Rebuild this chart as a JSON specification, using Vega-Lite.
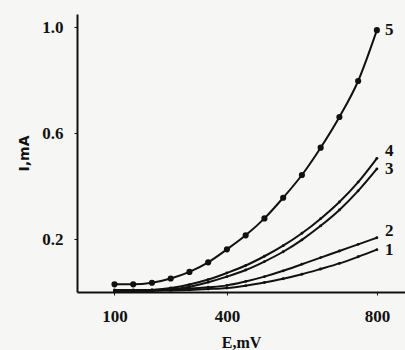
{
  "$schema": "https://vega.github.io/schema/vega-lite/v6.json",
  "autosize": {"type": "none"},
  "padding": {"left": 77, "top": 14, "right": 0, "bottom": 58},
  "width": 328,
  "height": 278,
  "background": "#f6f6f4",
  "config": {
    "view": {"stroke": null},
    "axis": {
      "grid": false,
      "domainColor": "#111",
      "domainWidth": 2,
      "tickColor": "#111",
      "tickSize": 3,
      "labelFont": "Liberation Serif",
      "labelFontWeight": "bold",
      "labelFontSize": 17,
      "labelColor": "#111",
      "titleFont": "Liberation Serif",
      "titleFontWeight": "bold",
      "titleFontSize": 16,
      "titleColor": "#111"
    }
  },
  "data": {
    "values": [
      {"s": "5", "E": 100, "I": 0.029}, {"s": "5", "E": 150, "I": 0.029}, {"s": "5", "E": 200, "I": 0.035}, {"s": "5", "E": 250, "I": 0.051}, {"s": "5", "E": 300, "I": 0.076}, {"s": "5", "E": 350, "I": 0.112}, {"s": "5", "E": 400, "I": 0.161}, {"s": "5", "E": 450, "I": 0.214}, {"s": "5", "E": 500, "I": 0.278}, {"s": "5", "E": 550, "I": 0.356}, {"s": "5", "E": 600, "I": 0.442}, {"s": "5", "E": 650, "I": 0.545}, {"s": "5", "E": 700, "I": 0.661}, {"s": "5", "E": 750, "I": 0.797}, {"s": "5", "E": 800, "I": 0.989},
      {"s": "4", "E": 100, "I": 0.005}, {"s": "4", "E": 150, "I": 0.005}, {"s": "4", "E": 200, "I": 0.008}, {"s": "4", "E": 250, "I": 0.015}, {"s": "4", "E": 300, "I": 0.028}, {"s": "4", "E": 350, "I": 0.047}, {"s": "4", "E": 400, "I": 0.072}, {"s": "4", "E": 450, "I": 0.1}, {"s": "4", "E": 500, "I": 0.135}, {"s": "4", "E": 550, "I": 0.175}, {"s": "4", "E": 600, "I": 0.222}, {"s": "4", "E": 650, "I": 0.277}, {"s": "4", "E": 700, "I": 0.34}, {"s": "4", "E": 750, "I": 0.415}, {"s": "4", "E": 800, "I": 0.505},
      {"s": "3", "E": 100, "I": 0.003}, {"s": "3", "E": 150, "I": 0.003}, {"s": "3", "E": 200, "I": 0.005}, {"s": "3", "E": 250, "I": 0.01}, {"s": "3", "E": 300, "I": 0.02}, {"s": "3", "E": 350, "I": 0.037}, {"s": "3", "E": 400, "I": 0.058}, {"s": "3", "E": 450, "I": 0.083}, {"s": "3", "E": 500, "I": 0.115}, {"s": "3", "E": 550, "I": 0.152}, {"s": "3", "E": 600, "I": 0.197}, {"s": "3", "E": 650, "I": 0.25}, {"s": "3", "E": 700, "I": 0.31}, {"s": "3", "E": 750, "I": 0.382}, {"s": "3", "E": 800, "I": 0.465},
      {"s": "2", "E": 100, "I": 0.008}, {"s": "2", "E": 150, "I": 0.008}, {"s": "2", "E": 200, "I": 0.008}, {"s": "2", "E": 250, "I": 0.01}, {"s": "2", "E": 300, "I": 0.013}, {"s": "2", "E": 350, "I": 0.018}, {"s": "2", "E": 400, "I": 0.025}, {"s": "2", "E": 450, "I": 0.04}, {"s": "2", "E": 500, "I": 0.058}, {"s": "2", "E": 550, "I": 0.08}, {"s": "2", "E": 600, "I": 0.105}, {"s": "2", "E": 650, "I": 0.13}, {"s": "2", "E": 700, "I": 0.155}, {"s": "2", "E": 750, "I": 0.18}, {"s": "2", "E": 800, "I": 0.205},
      {"s": "1", "E": 100, "I": 0.004}, {"s": "1", "E": 150, "I": 0.004}, {"s": "1", "E": 200, "I": 0.005}, {"s": "1", "E": 250, "I": 0.006}, {"s": "1", "E": 300, "I": 0.008}, {"s": "1", "E": 350, "I": 0.011}, {"s": "1", "E": 400, "I": 0.015}, {"s": "1", "E": 450, "I": 0.024}, {"s": "1", "E": 500, "I": 0.036}, {"s": "1", "E": 550, "I": 0.05}, {"s": "1", "E": 600, "I": 0.067}, {"s": "1", "E": 650, "I": 0.087}, {"s": "1", "E": 700, "I": 0.108}, {"s": "1", "E": 750, "I": 0.133}, {"s": "1", "E": 800, "I": 0.16}
    ]
  },
  "encoding": {
    "x": {"field": "E", "type": "quantitative", "scale": {"domain": [0, 875], "nice": false},
      "axis": {"values": [100, 400, 800], "title": "E,mV", "labelPadding": 13, "titlePadding": 10}},
    "y": {"field": "I", "type": "quantitative", "scale": {"domain": [0, 1.05], "nice": false},
      "axis": {"values": [0.2, 0.6, 1.0], "format": ".1f", "title": "I,mA", "titleFont": "DejaVu Sans", "titleFontSize": 14, "labelPadding": 11, "titlePadding": 10}}
  },
  "layer": [
    {"mark": {"type": "line", "interpolate": "monotone", "color": "#111", "strokeWidth": 2}, "encoding": {"detail": {"field": "s"}}},
    {"transform": [{"filter": "datum.s == '5'"}], "mark": {"type": "circle", "color": "#111", "opacity": 1, "size": 38}},
    {"transform": [{"filter": "datum.s != '5'"}], "mark": {"type": "circle", "color": "#111", "opacity": 1, "size": 8}},
    {"transform": [{"filter": "datum.E == 800 && (datum.s == '4' || datum.s == '2')"}], "mark": {"type": "text", "align": "left", "dx": 8, "dy": -7, "font": "Liberation Serif", "fontWeight": "bold", "fontSize": 17, "color": "#111"}, "encoding": {"text": {"field": "s"}}},
    {"transform": [{"filter": "datum.E == 800 && (datum.s == '5' || datum.s == '3' || datum.s == '1')"}], "mark": {"type": "text", "align": "left", "dx": 8, "dy": 0, "font": "Liberation Serif", "fontWeight": "bold", "fontSize": 17, "color": "#111"}, "encoding": {"text": {"field": "s"}}}
  ]
}
